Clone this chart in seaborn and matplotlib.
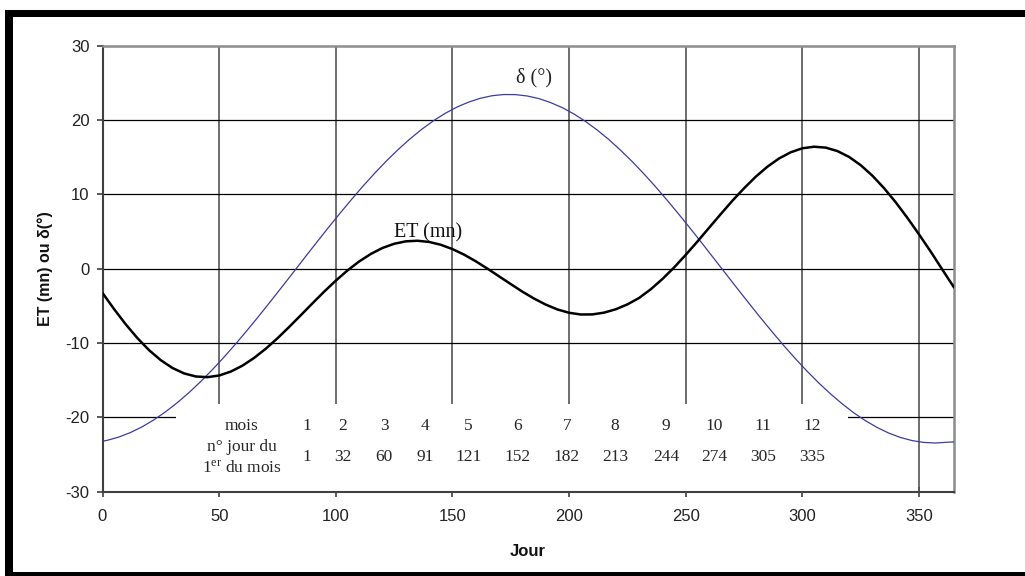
import matplotlib
matplotlib.use("Agg")
import matplotlib.pyplot as plt
import numpy as np
import pandas as pd
import seaborn as sns
from matplotlib.patches import Rectangle
from matplotlib.transforms import IdentityTransform

# Equation of time (minutes), sampled every 5 days
et_day = list(range(0, 366, 5))
et_min = [-3.26, -5.45, -7.50, -9.35, -10.97, -12.31, -13.36, -14.09, -14.50, -14.59,
          -14.37, -13.84, -13.04, -12.00, -10.76, -9.36, -7.84, -6.26, -4.66, -3.09,
          -1.61, -0.24, 0.97, 1.98, 2.79, 3.35, 3.68, 3.76, 3.60, 3.22,
          2.64, 1.89, 1.00, 0.01, -1.03, -2.07, -3.09, -4.02, -4.83, -5.48,
          -5.93, -6.16, -6.15, -5.91, -5.46, -4.80, -3.94, -2.77, -1.39, 0.16,
          1.86, 3.65, 5.50, 7.34, 9.14, 10.82, 12.37, 13.72, 14.83, 15.66,
          16.20, 16.41, 16.29, 15.83, 15.04, 13.93, 12.52, 10.84, 8.94, 6.85,
          4.62, 2.31, -0.12, -2.52]

# Solar declination (degrees)
decl_day = [0] + list(range(2, 363, 5)) + [365]
decl_deg = [-23.21, -23.09, -22.65, -22.04, -21.27, -20.34, -19.26, -18.04, -16.69, -15.21,
            -13.62, -11.93, -10.15, -8.29, -6.38, -4.41, -2.42, -0.41, 1.62, 3.62,
            5.60, 7.53, 9.41, 11.23, 12.95, 14.59, 16.11, 17.51, 18.79, 19.93,
            20.92, 21.75, 22.42, 22.93, 23.27, 23.43, 23.42, 23.24, 22.89, 22.36,
            21.68, 20.83, 19.82, 18.67, 17.39, 15.96, 14.43, 12.79, 11.05, 9.23,
            7.34, 5.40, 3.42, 1.41, -0.61, -2.62, -4.61, -6.57, -8.48, -10.33,
            -12.10, -13.78, -15.36, -16.82, -18.16, -19.38, -20.44, -21.35, -22.11, -22.70,
            -23.12, -23.37, -23.45, -23.35, -23.30]

# Month table
months = ["1", "2", "3", "4", "5", "6", "7", "8", "9", "10", "11", "12"]
first_day = ["1", "32", "60", "91", "121", "152", "182", "213", "244", "274", "305", "335"]

x_ticks = [0, 50, 100, 150, 200, 250, 300, 350]
y_ticks = [-30, -20, -10, 0, 10, 20, 30]

sns.set_style("white")
plt.rcParams["font.family"] = ["Liberation Sans", "DejaVu Sans"]
plt.rcParams["axes.unicode_minus"] = False
plt.rcParams["mathtext.fontset"] = "custom"
plt.rcParams["mathtext.rm"] = "Liberation Serif"
plt.rcParams["mathtext.it"] = "Liberation Serif:italic"
plt.rcParams["mathtext.bf"] = "Liberation Serif:bold"

W, H = 1025, 576
fig = plt.figure(figsize=(W / 100, H / 100), dpi=100, facecolor="white")
ax = fig.add_axes([102.5 / W, 1 - 491.7 / H, (954 - 102.5) / W, (491.7 - 45.7) / H])

# Frame around the figure
black = dict(transform=IdentityTransform(), facecolor="black", edgecolor="none")
fig.add_artist(Rectangle((5, H - 17), W - 5, 7, **black))
fig.add_artist(Rectangle((5, 0), 8, H - 10, **black))
fig.add_artist(Rectangle((5, 0), W - 5, 4, **black))

df_et = pd.DataFrame({"Jour": et_day, "val": et_min})
df_decl = pd.DataFrame({"Jour": decl_day, "val": decl_deg})
sns.lineplot(data=df_decl, x="Jour", y="val", color="#3c3ca0", lw=0.9,
             estimator=None, ax=ax, zorder=3)
sns.lineplot(data=df_et, x="Jour", y="val", color="black", lw=1.8,
             estimator=None, ax=ax, zorder=3)

ax.set_xlim(0, 365)
ax.set_ylim(-30, 30)
ax.set_xticks(x_ticks)
ax.set_yticks(y_ticks)
ax.set_xlabel("")
ax.set_ylabel("")

# Grid lines
for xv in x_ticks[1:]:
    ax.axvline(xv, color="#555555", lw=1.2, zorder=0.6)
for yv in y_ticks[1:-1]:
    ax.axhline(yv, color="black", lw=0.9, zorder=0.6)

# White box holding the month table
ax.add_patch(Rectangle((31.5, -30), 288, 11.8, facecolor="white",
                       edgecolor="none", zorder=1))

serif = "Liberation Serif"
fs_tab = 12.5
col_x = [87.7, 103.1, 120.7, 138.3, 156.9, 177.9, 199.1, 219.7, 241.5, 262.1, 283.1, 304.1]
ax.text(59.8, -21.2, "mois", family=serif, size=fs_tab, ha="center", va="center", zorder=4)
ax.text(59.8, -24.0, "n° jour du", family=serif, size=fs_tab, ha="center", va="center", zorder=4)
ax.text(59.8, -26.8, r"1$^{\rm er}$ du mois", family=serif, size=fs_tab,
        ha="center", va="center", zorder=4)
for cx, m, d in zip(col_x, months, first_day):
    ax.text(cx, -21.2, m, family=serif, size=fs_tab, ha="center", va="center", zorder=4)
    ax.text(cx, -25.3, d, family=serif, size=fs_tab, ha="center", va="center", zorder=4)

# Curve labels
ax.text(139.5, 4.8, "ET (mn)", family=serif, size=14.5, ha="center", va="center",
        color="#111111", zorder=4)
ax.text(185, 25.65, "δ (°)", family=serif, size=14.5, ha="center", va="center",
        color="#222222", zorder=4)

for side in ["left", "bottom"]:
    ax.spines[side].set_color("#404040")
    ax.spines[side].set_linewidth(1.5)
for side in ["top", "right"]:
    ax.spines[side].set_color("#8c8c8c")
    ax.spines[side].set_linewidth(1.8)

ax.tick_params(bottom=True, left=True)
ax.tick_params(axis="x", direction="inout", length=7, width=1.2, color="#404040",
               pad=9, labelsize=12, labelcolor="#222222")
ax.tick_params(axis="y", direction="out", length=4.3, width=1.2, color="#404040",
               pad=5, labelsize=12, labelcolor="#222222")

fig.text(45 / W, 1 - 269 / H, "ET (mn) ou δ(°)", rotation=90, ha="center", va="center",
         fontsize=11.5, fontweight="bold", color="#111111")
fig.text(528 / W, 1 - 552 / H, "Jour", ha="center", va="center",
         fontsize=12, fontweight="bold", color="#111111")

fig.savefig("out.png", dpi=100, facecolor="white")
